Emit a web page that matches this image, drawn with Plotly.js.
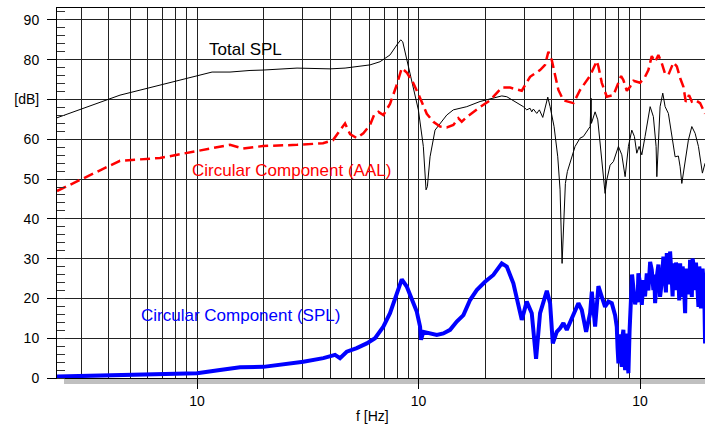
<!DOCTYPE html>
<html>
<head>
<meta charset="utf-8">
<script src="https://cdn.plot.ly/plotly-3.0.1.min.js"></script>
<style>html,body{margin:0;padding:0;background:#fff;}#chart{width:705px;height:425px;}</style>
</head>
<body>
<div id="chart"></div>
<script>
// Total SPL (thin black)
const totalF = [2.333, 4.492, 11.69, 14.09, 17.35, 19.86, 28.28, 39.86, 46.59, 54.43, 60.40, 67.03, 74.34, 79.75, 83.1, 84.85, 88.45, 93.18, 99.8, 105.1, 108.1, 109.6, 112.7, 118.7, 125.1, 134.1, 143.6, 165.1, 189.5, 210.3, 237.5, 250.2, 277.5, 297.2, 307.9, 318.7, 324.3, 329.8, 341.6, 351.0, 363.6, 372.5, 383.1, 392.4, 409.0, 425.0, 435.3, 444.5, 450.5, 460.0, 469.7, 483.1, 508.8, 536.0, 554.6, 594.9, 601.1, 602.9, 626.5, 644.2, 671.7, 695.0, 707.5, 719.3, 732.2, 757.8, 771.2, 798.3, 827.0, 855.9, 885.7, 917.4, 942.7, 966.3, 989.7, 1018, 1053, 1110, 1148, 1181, 1190, 1209, 1231, 1266, 1297, 1342, 1390, 1439, 1489, 1516, 1543, 1569, 1597, 1652, 1712, 1772, 1834, 1911, 1965];
const totalDb = [65.4, 71.1, 76.9, 76.9, 77.3, 77.4, 77.9, 77.7, 77.9, 78.3, 78.7, 79.5, 81.2, 83.7, 85.0, 84.5, 79.9, 74.9, 67.4, 58.2, 47.3, 48.1, 55.6, 62.3, 64.0, 66.1, 67.4, 68.2, 69.5, 70.1, 70.9, 70.7, 69.1, 68.2, 67.4, 67.8, 66.9, 67.6, 66.5, 67.4, 65.5, 68.2, 70.6, 68.2, 63.2, 55.6, 47.3, 28.8, 38.9, 48.9, 51.9, 54.0, 58.2, 60.3, 60.7, 63.2, 70.3, 64.0, 66.9, 64.9, 55.6, 46.4, 49.8, 51.9, 53.5, 54.4, 55.6, 58.2, 56.1, 50.6, 58.2, 62.3, 60.7, 56.5, 58.2, 56.1, 60.7, 68.2, 65.7, 58.2, 50.6, 59.8, 68.2, 71.6, 68.2, 66.5, 60.7, 55.6, 55.8, 53.1, 48.9, 51.5, 54.0, 59.8, 63.2, 61.5, 58.2, 51.5, 54.0];

// Circular Component (AAL) (red dashed)
const aalF = [2.333, 3.122, 4.492, 6.808, 10.32, 14.09, 16.13, 19.86, 28.28, 37.05, 41.11, 44.2, 46.59, 49.06, 52.6, 56.33, 60.40, 62.97, 65.85, 69.36, 74.34, 79.75, 84.0, 88.45, 94.7, 101.6, 108.9, 116.6, 125.1, 134.1, 143.6, 151.2, 156.7, 165.1, 176.8, 189.5, 210.3, 237.5, 258.9, 292.4, 318.7, 353.6, 372.5, 385.5, 399.4, 406.1, 427.8, 450.5, 500, 536.0, 594.9, 637.7, 648.3, 671.7, 707.5, 757.8, 798.3, 820.9, 840.6, 871.0, 901.4, 933.0, 1000, 1053, 1090, 1129, 1169, 1209, 1253, 1297, 1342, 1414, 1465, 1516, 1569, 1608, 1664, 1712, 1772, 1866, 1965];
const aalDb = [47.0, 50.3, 54.6, 55.3, 57.1, 58.6, 57.7, 58.3, 58.6, 59.0, 59.8, 62.1, 64.0, 61.3, 60.3, 61.5, 63.6, 66.1, 66.9, 66.1, 68.9, 73.7, 77.9, 76.8, 74.1, 70.4, 66.4, 64.4, 63.2, 63.0, 63.6, 65.3, 64.4, 65.6, 66.9, 68.1, 69.8, 73.0, 73.0, 72.2, 75.7, 77.4, 78.7, 82.0, 79.9, 78.2, 72.4, 69.8, 69.1, 72.4, 76.0, 79.7, 78.3, 74.2, 70.7, 71.1, 74.1, 75.9, 74.9, 72.2, 73.2, 74.7, 74.2, 75.7, 77.4, 80.9, 79.5, 81.2, 79.1, 76.4, 76.2, 79.3, 78.3, 75.4, 73.2, 69.4, 71.1, 69.5, 69.9, 69.1, 66.4];

// Circular Component (SPL) (thick blue)
const splF = [2.333, 4.492, 10.0, 12.70, 15.64, 19.92, 23.70, 30.20, 37.17, 39.86, 41.98, 44.2, 47.41, 52.6, 58.36, 63.62, 69.36, 74.34, 79.75, 84.0, 88.45, 93.18, 98.15, 101.6, 102.6, 105.1, 112.7, 120.9, 129.4, 138.8, 148.8, 159.4, 170.8, 183.1, 199.6, 217.6, 237.5, 250.2, 267.9, 282.2, 292.4, 307.9, 324.3, 339.2, 353.6, 379.3, 392.4, 403.6, 420.6, 435.3, 450.5, 466.8, 483.1, 508.8, 526.6, 545.5, 570.6, 594.9, 605.4, 626.5, 648.3, 671.7, 695.0, 719.3, 745.2, 771.2, 784.8, 791.5, 798.3, 805.3, 812.4, 819.7, 827.0, 833.8, 840.6, 848.2, 855.9, 863.5, 871.0, 878.3, 885.7, 896.7, 907.8, 920, 933.0, 950, 966.3, 974, 982.4, 1000, 1018, 1035, 1053, 1072, 1090, 1110, 1129, 1148, 1158, 1169, 1190, 1210, 1231, 1252, 1274, 1297, 1308, 1320, 1342, 1354, 1366, 1390, 1402, 1414, 1439, 1452, 1465, 1489, 1502, 1516, 1543, 1556, 1569, 1597, 1611, 1625, 1652, 1666, 1681, 1712, 1726, 1740, 1772, 1788, 1803, 1834, 1850, 1866, 1882, 1899, 1915, 1931, 1948, 1965];
const splDb = [0.35, 0.75, 1.2, 2.0, 2.7, 2.8, 3.3, 4.1, 5.0, 5.5, 5.8, 5.0, 6.6, 7.5, 8.7, 10.0, 12.9, 16.3, 21.3, 24.8, 23.0, 20.0, 16.7, 12.9, 9.6, 11.6, 11.2, 10.8, 11.2, 12.1, 14.2, 15.8, 19.6, 22.1, 24.2, 25.9, 28.8, 28.0, 23.8, 18.8, 14.6, 19.2, 16.3, 4.8, 16.3, 21.9, 18.8, 8.7, 11.6, 12.5, 13.8, 12.1, 14.2, 16.7, 18.8, 17.1, 11.6, 16.3, 21.7, 12.9, 23.1, 20.4, 17.9, 19.2, 18.8, 15.8, 12.9, 7.5, 3.7, 11.0, 9.6, 4.5, 2.8, 10.5, 12.1, 5.0, 2.0, 9.5, 11.2, 4.0, 1.2, 12.0, 20.4, 26.0, 22.6, 18.5, 21.3, 19.0, 26.3, 23.8, 18.4, 24.6, 20.5, 26.3, 22.0, 29.2, 27.2, 22.1, 26.0, 18.8, 25.5, 28.5, 20.4, 24.0, 30.5, 25.5, 21.5, 31.4, 28.0, 23.5, 31.8, 24.6, 20.5, 28.8, 22.1, 29.0, 27.2, 25.5, 19.5, 28.8, 20.4, 28.0, 26.3, 16.3, 27.5, 23.8, 27.2, 21.0, 29.7, 20.4, 30.0, 28.8, 22.1, 29.0, 25.5, 17.9, 28.0, 26.3, 17.5, 20.4, 27.5, 25.5, 22.0, 8.7];

// Axis ticks
const xDecadeVals = [10, 100, 1000];
const xDecadeText = ['10', '10', '10'];
const xGridVals = [3, 4, 5, 6, 7, 8, 9, 20, 30, 40, 50, 60, 70, 80, 90, 200, 300, 400, 500, 600, 700, 800, 900];
const yTickVals = [0, 10, 20, 30, 40, 50, 60, 70, 80, 90];
const yTickText = ['0', '10', '20', '30', '40', '50', '60', '[dB]', '80', '90'];

const traces = [
  {x: totalF, y: totalDb, type: 'scatter', mode: 'lines', line: {color: '#000000', width: 1}, hoverinfo: 'skip'},
  {x: aalF, y: aalDb, type: 'scatter', mode: 'lines', line: {color: '#ff0000', width: 2.5, dash: '10px,5px'}, hoverinfo: 'skip'},
  {x: splF, y: splDb, type: 'scatter', mode: 'lines', line: {color: '#0000ff', width: 4}, hoverinfo: 'skip'}
];

const gridC = '#222222';
const layout = {
  width: 705, height: 425,
  margin: {l: 57, r: 0, t: 8, b: 47, pad: 0},
  paper_bgcolor: '#ffffff', plot_bgcolor: '#ffffff',
  showlegend: false,
  font: {family: 'Liberation Sans, Arial, sans-serif', size: 14, color: '#000'},
  xaxis: {
    type: 'log', range: [0.368, 3.293],
    tickmode: 'array', tickvals: xDecadeVals, ticktext: xDecadeText,
    ticks: 'outside', ticklen: 10, tickcolor: '#000', tickwidth: 1,
    showgrid: true, gridcolor: gridC, gridwidth: 1,
    showline: true, linecolor: '#000', linewidth: 1, mirror: true,
    zeroline: false, fixedrange: true,
    tickfont: {size: 14, color: '#000'},
    minor: {tickmode: 'array', tickvals: xGridVals, showgrid: true, gridcolor: gridC, gridwidth: 1, ticks: ''}
  },
  yaxis: {
    range: [0, 93],
    tickmode: 'array', tickvals: yTickVals, ticktext: yTickText,
    ticks: 'outside', ticklen: 9, tickcolor: '#000', tickwidth: 1,
    ticklabelstandoff: 5,
    showgrid: true, gridcolor: gridC, gridwidth: 1,
    showline: true, linecolor: '#000', linewidth: 1, mirror: false,
    zeroline: false, fixedrange: true,
    tickfont: {size: 14, color: '#000'},
    minor: {dtick: 2, tick0: 0, ticks: 'inside', ticklen: 8, tickcolor: '#333', tickwidth: 1, showgrid: false}
  },
  shapes: [
    {type: 'rect', xref: 'paper', yref: 'paper', x0: 0.0108, x1: 1, y0: -0.0162, y1: -0.0027,
     fillcolor: '#c0c0c0', line: {width: 0}, layer: 'below'}
  ],
  annotations: [
    {text: 'Total SPL', xref: 'paper', yref: 'paper', x: 0.231, y: 0.889, xanchor: 'left', yanchor: 'middle',
     showarrow: false, font: {size: 17, color: '#000'}},
    {text: 'Circular Component (AAL)', xref: 'paper', yref: 'paper', x: 0.206, y: 0.5595, xanchor: 'left', yanchor: 'middle',
     showarrow: false, font: {size: 17, color: '#ff0000'}},
    {text: 'Circular Component (SPL)', xref: 'paper', yref: 'paper', x: 0.126, y: 0.1676, xanchor: 'left', yanchor: 'middle',
     showarrow: false, font: {size: 17, color: '#0000ff'}},
    {text: 'f [Hz]', xref: 'paper', yref: 'paper', x: 0.4869, y: -0.1027, xanchor: 'center', yanchor: 'middle',
     showarrow: false, font: {size: 14, color: '#000'}}
  ]
};

Plotly.newPlot('chart', traces, layout, {staticPlot: true, displayModeBar: false});
</script>
</body>
</html>
